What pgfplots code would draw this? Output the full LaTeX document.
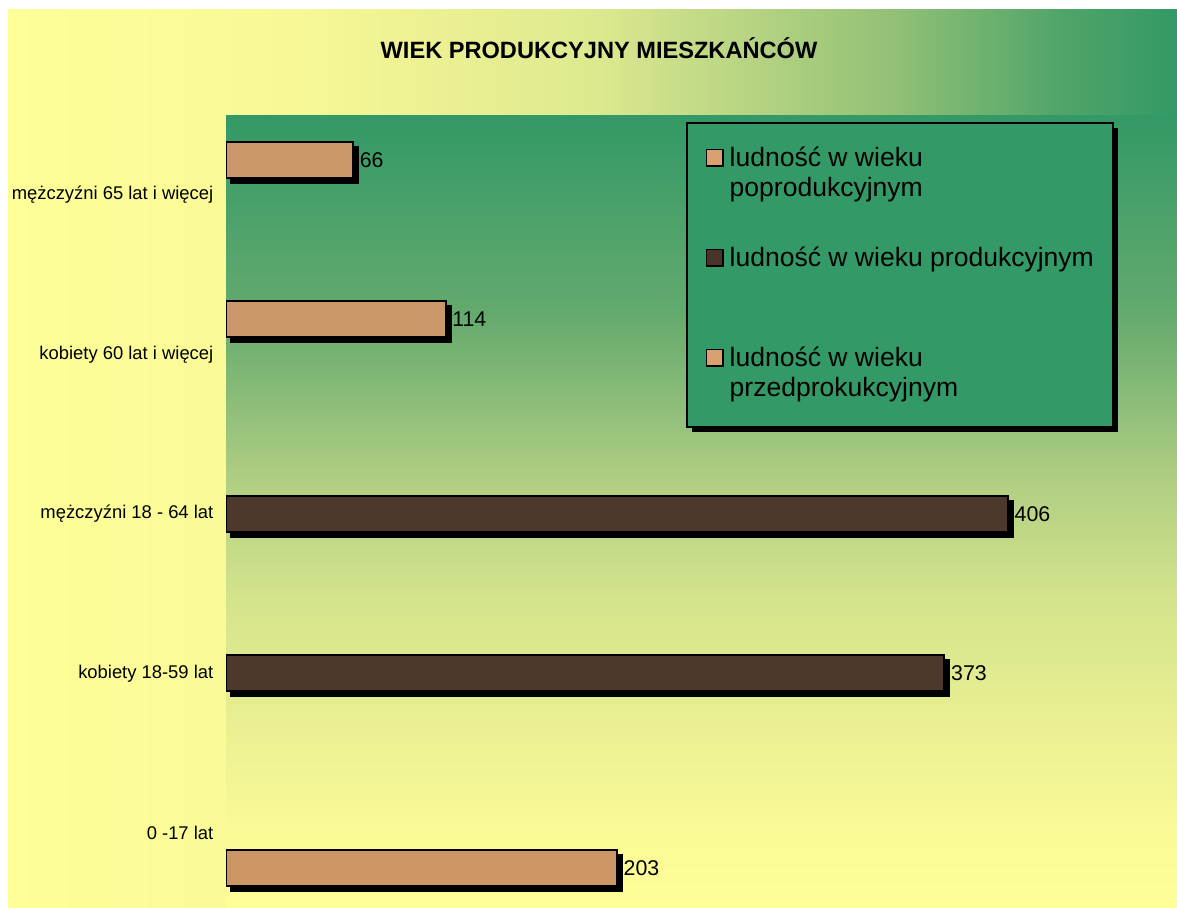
\documentclass[border=0pt]{standalone}
\usepackage{pgfplots}
\pgfplotsset{compat=1.18}
\usepackage{fontspec}
\setmainfont{Liberation Sans}
\usetikzlibrary{shadows,patterns}

\definecolor{bgyel}{RGB}{255,255,153}
\definecolor{bggrn}{RGB}{51,153,102}
\definecolor{oA}{RGB}{248,248,150}
\definecolor{oB}{RGB}{222,233,143}
\definecolor{oC}{RGB}{145,192,118}
\definecolor{oD}{RGB}{80,165,105}
\definecolor{pA}{RGB}{250,250,150}
\definecolor{pB}{RGB}{228,236,145}
\definecolor{pC}{RGB}{212,228,140}
\definecolor{pD}{RGB}{176,206,130}
\definecolor{pE}{RGB}{100,170,110}
\definecolor{cork}{RGB}{203,152,108}
\definecolor{darkwood}{RGB}{76,57,43}
\definecolor{lightwood}{RGB}{204,150,100}
\definecolor{legA}{RGB}{217,160,112}
\definecolor{legB}{RGB}{72,52,40}

\pgfdeclarehorizontalshading{outerbg}{100bp}{color(0bp)=(bgyel); color(25bp)=(bgyel); color(37bp)=(oA); color(50bp)=(oB); color(63bp)=(oC); color(70bp)=(oD); color(75bp)=(bggrn); color(100bp)=(bggrn)}
\pgfdeclareverticalshading{plotbg}{100bp}{color(0bp)=(bgyel); color(25bp)=(bgyel); color(30bp)=(pA); color(38.75bp)=(pB); color(44.5bp)=(pC); color(52bp)=(pD); color(62.5bp)=(pE); color(75bp)=(bggrn); color(100bp)=(bggrn)}

\newcommand{\legsquare}[2]{%
  \pgfsetlinewidth{1.2pt}\pgfsetstrokecolor{black}\pgfsetfillcolor{#1}%
  \pgfpathrectanglecorners{\pgfpoint{0.6pt}{#2}}{\pgfpoint{12.9pt}{\dimexpr#2+12.3pt\relax}}%
  \pgfusepath{fill,stroke}}

\begin{document}
\begin{tikzpicture}
\path[use as bounding box, fill=white] (0pt,0pt) rectangle (882.75pt,680.25pt);
\shade[shading=outerbg] (6pt,0pt) rectangle (882.75pt,672.75pt);
\node[font=\fontsize{17.7}{21}\selectfont\bfseries] at (449.25pt,644.25pt) {WIEK PRODUKCYJNY MIESZKAŃCÓW};
\begin{axis}[
  at={(169.5pt,0pt)}, anchor=south west,
  scale only axis, width=713.25pt, height=593.25pt,
  xmin=0, xmax=493.8, ymin=-0.464, ymax=4.495,
  xbar, bar width=27pt,
  axis line style={draw=none},
  tick style={draw=none}, major tick length=0pt,
  xtick=\empty,
  ytick={0,1,2,3,4},
  yticklabels={0 -17 lat, kobiety 18-59 lat, mężczyźni 18 - 64 lat, kobiety 60 lat i więcej, mężczyźni 65 lat i więcej},
  y tick label style={font=\fontsize{13.8}{16}\selectfont, xshift=-6pt},
  nodes near coords,
  nodes near coords style={font=\fontsize{16}{19}\selectfont, anchor=west, xshift=1pt, text=black},
  /pgf/number format/assume math mode=true,
  axis background/.style={shade, shading=plotbg},
  legend cell align=left,
  legend style={at={(rel axis cs:0.4837,0.9924)}, anchor=north west,
    draw=black, line width=1.5pt, fill=bggrn,
    drop shadow={shadow xshift=3.75pt, shadow yshift=-3.75pt, fill=black, opacity=1},
    inner xsep=14pt, inner ysep=16.5pt, row sep=30pt, column sep=4.5pt,
    font=\fontsize{19.9}{22.5}\selectfont,
    nodes={inner sep=0pt, anchor=base west, align=left}},
  barshadow/.style={drop shadow={shadow xshift=3.75pt, shadow yshift=-3.75pt, fill=black, opacity=1}},
]
\addplot[fill=cork, draw=black, line width=1.5pt, bar shift=26.25pt, barshadow,
  legend image code/.code={\legsquare{legA}{22.5pt}}]
  coordinates {(114,3) (66,4)};
\addlegendentry[text height=38.25pt, text depth=6.75pt]{ludność w wieku\\poprodukcyjnym}
\addplot[fill=darkwood, draw=black, line width=1.5pt, bar shift=0pt, barshadow,
  legend image code/.code={\legsquare{legB}{0pt}}]
  coordinates {(373,1) (406,2)};
\addlegendentry[text height=15.75pt, text depth=29.25pt]{ludność w wieku produkcyjnym}
\addplot[fill=lightwood, draw=black, line width=1.5pt, bar shift=-26.25pt, barshadow,
  legend image code/.code={\legsquare{legA}{22.5pt}}]
  coordinates {(203,0)};
\addlegendentry[text height=38.25pt, text depth=6.75pt]{ludność w wieku\\przedprokukcyjnym}
\end{axis}
\end{tikzpicture}
\end{document}
